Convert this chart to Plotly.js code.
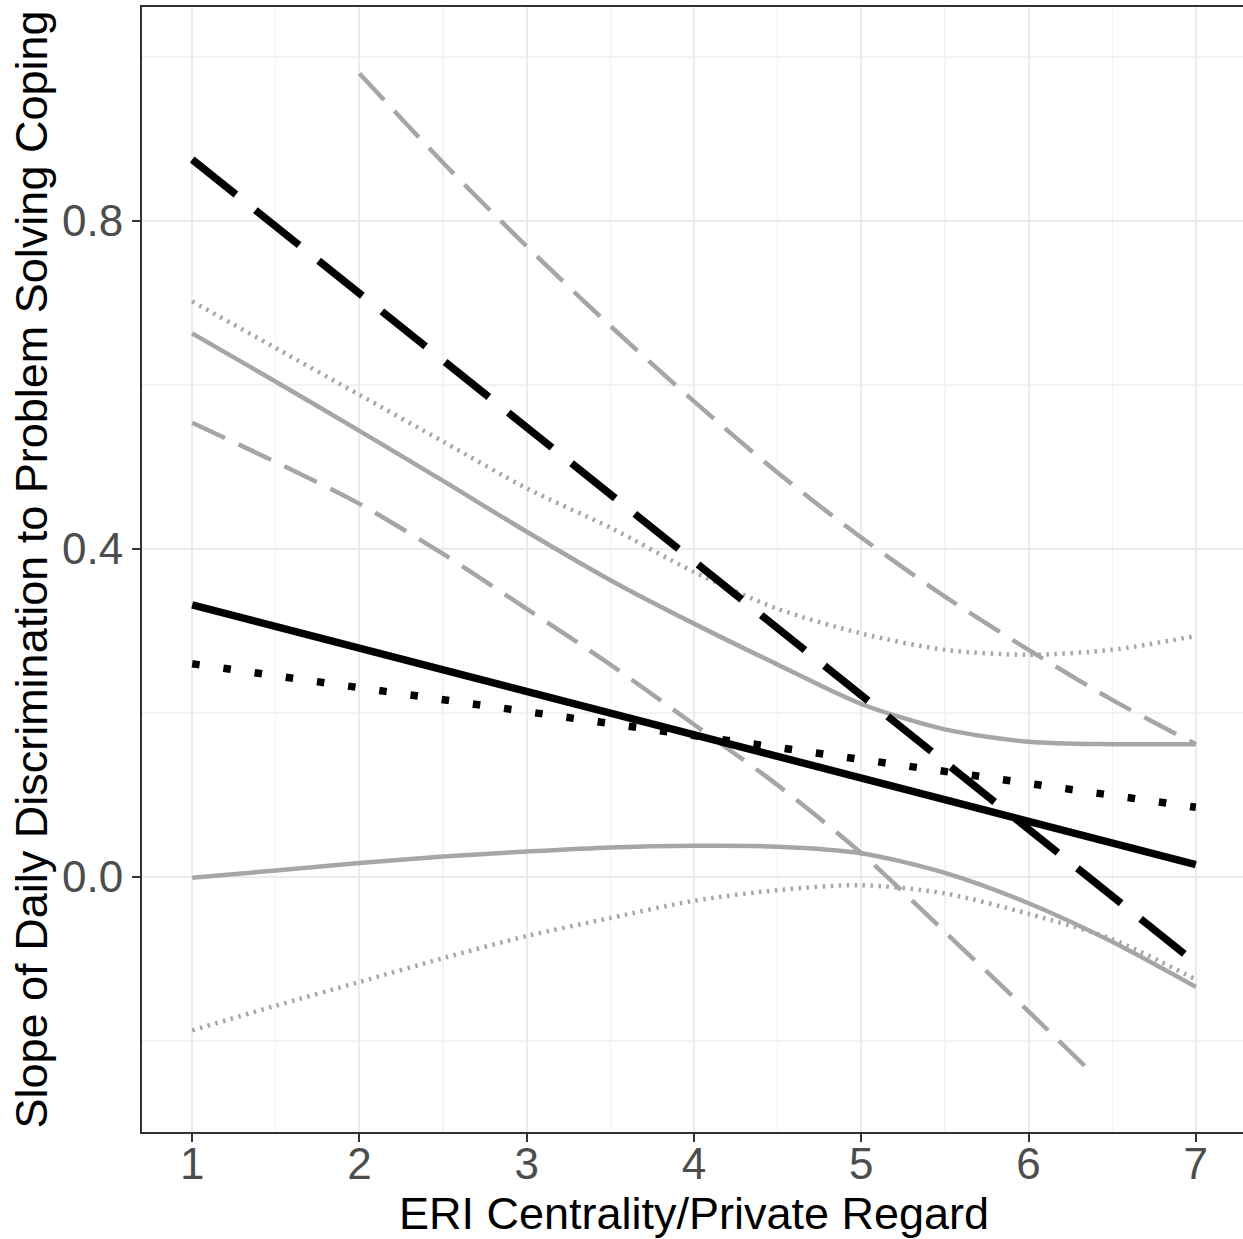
<!DOCTYPE html>
<html>
<head>
<meta charset="utf-8">
<script src="https://cdn.plot.ly/plotly-3.0.1.min.js"></script>
<style>
  html, body { margin: 0; padding: 0; overflow: hidden; background: #ffffff; }
  #chart { width: 1247px; height: 1239px; }
</style>
</head>
<body>
<div id="chart"></div>
<script>
// ---- data ----
const xEnds = [1, 7];
const slopeSolid  = [0.332, 0.015];   // black solid
const slopeDotted = [0.260, 0.085];   // black dotted
const slopeDashed = [0.875, -0.105];  // black long dashed

const xGrid = [1, 1.5, 2, 2.5, 3, 3.5, 4, 4.5, 5, 5.5, 6, 6.5, 7];
const solidUpper  = [0.663, 0.604, 0.544, 0.483, 0.421, 0.362, 0.309, 0.259, 0.211, 0.180, 0.165, 0.162, 0.162];
const solidLower  = [-0.001, 0.008, 0.017, 0.025, 0.031, 0.036, 0.038, 0.037, 0.029, 0.005, -0.032, -0.079, -0.134];
const dottedUpper = [0.702, 0.645, 0.588, 0.531, 0.474, 0.426, 0.372, 0.327, 0.297, 0.277, 0.271, 0.277, 0.294];
const dottedLower = [-0.187, -0.157, -0.128, -0.099, -0.072, -0.050, -0.029, -0.016, -0.010, -0.020, -0.045, -0.076, -0.125];

const xDashUpper = [2, 2.5, 3, 3.5, 4, 4.5, 5, 5.5, 6, 6.5, 7];
const dashedUpper = [0.980, 0.871, 0.769, 0.672, 0.580, 0.493, 0.414, 0.342, 0.277, 0.216, 0.162];
const xDashLower = [1, 1.5, 2, 2.5, 3, 3.5, 4, 4.5, 5, 5.5, 6, 6.4];
const dashedLower = [0.554, 0.506, 0.455, 0.394, 0.327, 0.259, 0.186, 0.112, 0.029, -0.067, -0.164, -0.243];

const xTicks = [1, 2, 3, 4, 5, 6, 7];
const yTicks = [0, 0.4, 0.8];
const yTickText = ['0.0', '0.4', '0.8'];

const GRAY = '#A6A6A6';
const BLACK = '#000000';

function gray(x, y, dash, w) {
  return { x: x, y: y, type: 'scatter', mode: 'lines',
    line: { color: GRAY, width: w, dash: dash, shape: 'spline', smoothing: 0.8 },
    hoverinfo: 'skip', showlegend: false };
}
function black(x, y, dash) {
  return { x: x, y: y, type: 'scatter', mode: 'lines',
    line: { color: BLACK, width: 7.5, dash: dash },
    hoverinfo: 'skip', showlegend: false };
}

const traces = [
  gray(xGrid, solidUpper, 'solid', 4.5),
  gray(xGrid, solidLower, 'solid', 4.5),
  gray(xGrid, dottedUpper, '2.5px,5.5px', 4.5),
  gray(xGrid, dottedLower, '2.5px,5.5px', 4.5),
  gray(xDashUpper, dashedUpper, '36px,15px', 4.5),
  gray(xDashLower, dashedLower, '36px,15px', 4.5),
  black(xEnds, slopeSolid, 'solid'),
  black(xEnds, slopeDotted, '7.5px,24px'),
  black(xEnds, slopeDashed, '56px,25px')
];

const FONT = 'Liberation Sans, Arial, Helvetica, sans-serif';

const layout = {
  width: 1247, height: 1239,
  margin: { l: 142, r: 1, t: 7, b: 107 },
  paper_bgcolor: '#ffffff', plot_bgcolor: '#ffffff',
  showlegend: false,
  font: { family: FONT, color: '#000000' },
  xaxis: {
    range: [0.7, 7.3], tickmode: 'array', tickvals: xTicks,
    ticks: 'outside', ticklen: 8, tickwidth: 2, tickcolor: '#333333',
    ticklabelstandoff: -16,
    tickfont: { family: FONT, size: 44, color: '#4D4D4D' },
    showline: true, mirror: true, linecolor: '#333333', linewidth: 2,
    showgrid: true, gridcolor: '#EBEBEB', gridwidth: 2, zeroline: false,
    minor: { tickmode: 'linear', tick0: 0.5, dtick: 1, showgrid: true, gridcolor: '#F2F2F2', gridwidth: 1.2, ticks: '' },
    title: { text: 'ERI Centrality/Private Regard', font: { family: FONT, size: 45, color: '#000000' }, standoff: 28 },
    automargin: false
  },
  yaxis: {
    range: [-0.311, 1.061], tickmode: 'array', tickvals: yTicks, ticktext: yTickText,
    ticks: 'outside', ticklen: 8, tickwidth: 2, tickcolor: '#333333',
    tickfont: { family: FONT, size: 44, color: '#4D4D4D' },
    showline: true, mirror: true, linecolor: '#333333', linewidth: 2,
    showgrid: true, gridcolor: '#EBEBEB', gridwidth: 2, zeroline: false,
    minor: { tickmode: 'linear', tick0: 0.2, dtick: 0.4, showgrid: true, gridcolor: '#F2F2F2', gridwidth: 1.2, ticks: '' },
    title: { text: 'Slope of Daily Discrimination to Problem Solving Coping', font: { family: FONT, size: 45, color: '#000000' }, standoff: 0 },
    automargin: false
  }
};

Plotly.newPlot('chart', traces, layout, { staticPlot: true, displayModeBar: false });
</script>
</body>
</html>
